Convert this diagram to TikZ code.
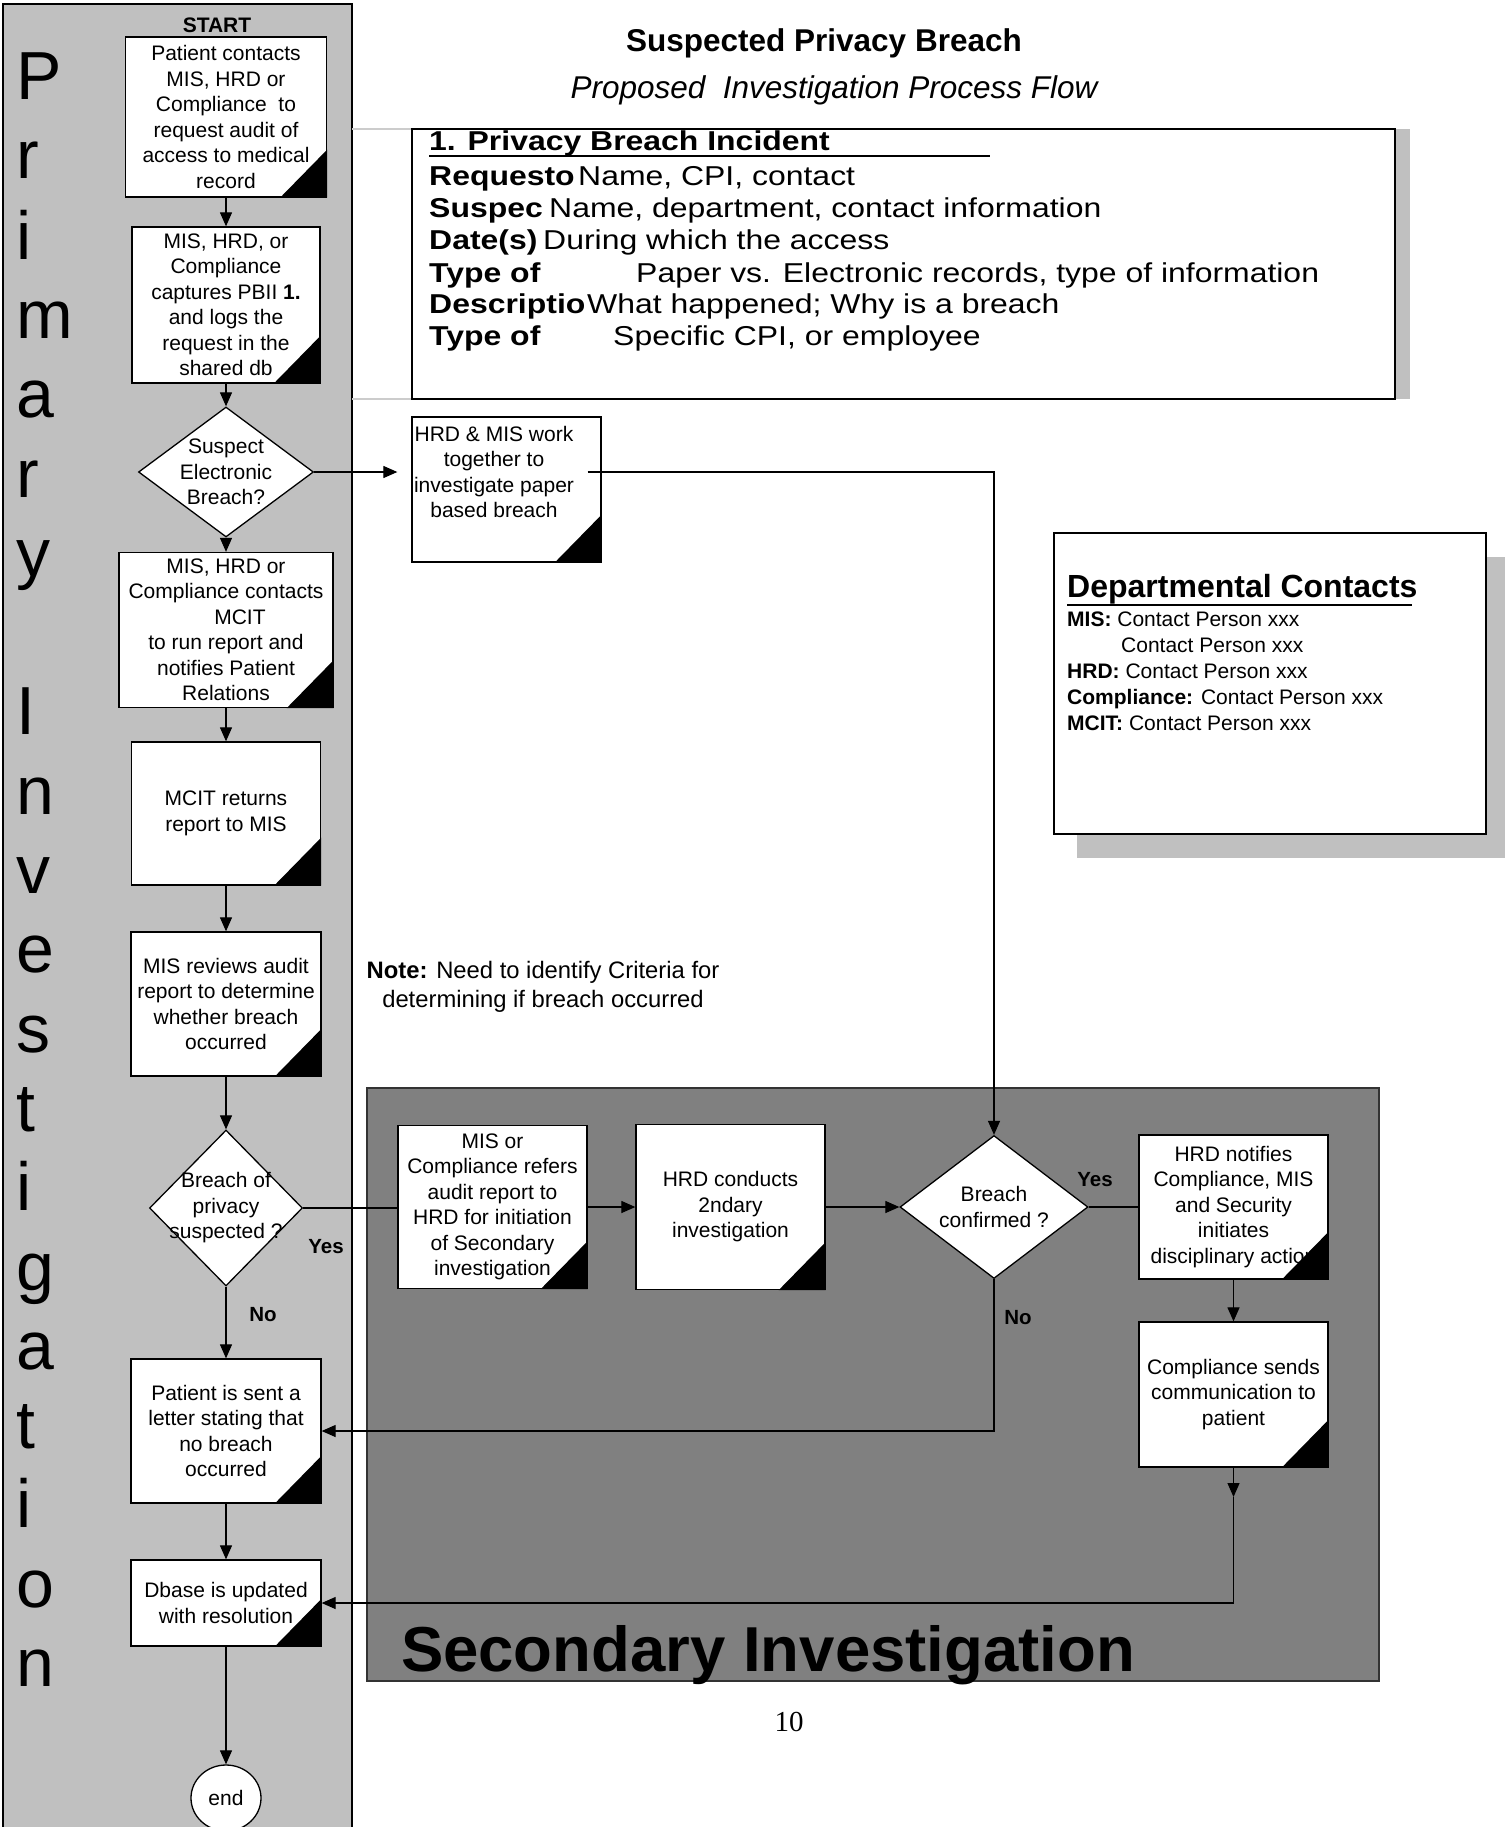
\documentclass[tikz,border=0pt]{standalone}
\usepackage{fontspec}
\setmainfont{Liberation Sans}
\newfontfamily\serifpage{Liberation Serif}
\newfontfamily\wideface[FakeStretch=1.17]{Liberation Sans}
\usetikzlibrary{arrows.meta,shapes.geometric}

\definecolor{lanegray}{HTML}{C0C0C0}
\definecolor{secgray}{HTML}{808080}
\newcommand{\boxfont}{\fontsize{21}{25.5}\selectfont}
\newcommand{\lanefont}{\fontsize{68}{68}\selectfont}
\newcommand{\incfont}{\wideface\fontsize{27.3}{32}\selectfont}
% black page corner in the lower right of a box
\newcommand{\pgcorner}[1]{\fill (#1.south east) -- ++(-47,0) -- ++(47,-48) -- cycle;}

\tikzset{
  box/.style={draw, fill=white, line width=1.3pt, align=center, inner sep=2pt, font=\boxfont},
  dia/.style={draw, fill=white, diamond, line width=1.3pt, inner sep=0pt},
  txt/.style={align=center, inner sep=0pt, font=\boxfont},
  arr/.style={-{Triangle[length=14pt,width=12pt]}, line width=1.2pt},
  conn/.style={line width=1.2pt},
  yesno/.style={font=\bfseries\fontsize{20.5}{24}\selectfont},
  lane/.style={anchor=base west, inner sep=0pt, font=\lanefont},
  inc/.style={anchor=base west, inner sep=0pt, font=\incfont},
  contactrow/.style={anchor=base west, inner sep=0pt, font=\fontsize{21}{26}\selectfont},
}

\begin{document}
\begin{tikzpicture}[x=1pt, y=-1pt]
\useasboundingbox (0,0) rectangle (1505,1827);

% swim lanes
\filldraw[fill=lanegray, line width=1.3pt] (3,4) rectangle (352,1830);
\filldraw[fill=secgray, draw=black!80, line width=1.3pt] (367,1088) rectangle (1379,1681);
\node[anchor=base, inner sep=0pt, font=\bfseries\fontsize{63.5}{70}\selectfont] (sectitle) at (768,1671) {Secondary Investigation};

% Primary Investigation, one letter a line
\node[lane] (l1) at (16,100) {P};
\node[lane] (l2) at (16,179) {r};
\node[lane] (l3) at (16,259) {i};
\node[lane] (l4) at (16,338) {m};
\node[lane] (l5) at (16,417) {a};
\node[lane] (l6) at (16,497) {r};
\node[lane] (l7) at (16,576) {y};
\node[lane] (l8) at (16,734) {I};
\node[lane] (l9) at (16,814) {n};
\node[lane] (l10) at (16,893) {v};
\node[lane] (l11) at (16,972) {e};
\node[lane] (l12) at (16,1052) {s};
\node[lane] (l13) at (16,1131) {t};
\node[lane] (l14) at (16,1210) {i};
\node[lane] (l15) at (16,1290) {g};
\node[lane] (l16) at (16,1369) {a};
\node[lane] (l17) at (16,1448) {t};
\node[lane] (l18) at (16,1527) {i};
\node[lane] (l19) at (16,1607) {o};
\node[lane] (l20) at (16,1686) {n};

% headings
\node[font=\bfseries\fontsize{31.5}{36}\selectfont] (title) at (824,43) {Suspected Privacy Breach};
\node[font=\itshape\fontsize{31.5}{36}\selectfont] (subtitle) at (834,90) {Proposed\ \ Investigation Process Flow};

% 1. incident box
\draw[gray!40, line width=1.2pt] (352,129) -- (412,129) (352,399) -- (412,399);
\fill[lanegray] (1395,129) rectangle (1410,399);
\filldraw[fill=white, line width=1.3pt] (412,129) rectangle (1395,399);
\node[inc, font=\incfont\bfseries] (inchead) at (429,151) {1. Privacy Breach Incident};
\draw[line width=1.5pt] (429,156) -- (990,156);
\node[inc] (row1) at (429,186) {\makebox[149pt][l]{\textbf{Requesto}}Name, CPI, contact};
\node[inc] (row2) at (429,218) {\makebox[120pt][l]{\textbf{Suspec}}Name, department, contact information};
\node[inc] (row3) at (429,250) {\makebox[114pt][l]{\textbf{Date(s)}}During which the access};
\node[inc] (row4) at (429,282) {\makebox[207pt][l]{\textbf{Type of}}Paper vs. Electronic records, type of information};
\node[inc] (row5) at (429,313.5) {\makebox[158pt][l]{\textbf{Descriptio}}What happened; Why is a breach};
\node[inc] (row6) at (429,345) {\makebox[184pt][l]{\textbf{Type of}}Specific CPI, or employee};

% departmental contacts
\fill[lanegray] (1077,557) rectangle (1505,858);
\filldraw[fill=white, line width=1.3pt] (1054,533) rectangle (1486,834);
\node[anchor=base west, inner sep=0pt, font=\bfseries\fontsize{32}{36}\selectfont] (depthead) at (1067,597) {Departmental Contacts};
\draw[line width=1.5pt] (1067,605) -- (1412,605);
\node[contactrow] (cmis) at (1067,626) {\textbf{MIS:} Contact Person xxx};
\node[contactrow] (cmis2) at (1121,652) {Contact Person xxx};
\node[contactrow] (chrd) at (1067,678) {\textbf{HRD:} Contact Person xxx};
\node[contactrow] (ccomp) at (1067,704) {\textbf{Compliance:} Contact Person xxx};
\node[contactrow] (cmcit) at (1067,730) {\textbf{MCIT:} Contact Person xxx};

% note
\node[align=center, inner sep=0pt, font=\fontsize{23.8}{29}\selectfont] (note) at (543,987) {\textbf{Note:} Need to identify Criteria for\\determining if breach occurred};

% primary flow
\node[font=\bfseries\fontsize{21}{24}\selectfont] (start) at (217,25) {START};
\node[box, minimum width=201pt, minimum height=160pt] (contact) at (226,117) {Patient contacts\\MIS, HRD or\\Compliance\ \ to\\request audit of\\access to medical\\record};
\node[box, minimum width=188pt, minimum height=156pt] (capture) at (226,305) {MIS, HRD, or\\Compliance\\captures PBII \textbf{1.}\\and logs the\\request in the\\shared db};
\node[dia, minimum width=175pt, minimum height=130pt] (suspect) at (226,472) {};
\node[txt] (suspecttxt) at (suspect) {Suspect\\Electronic\\Breach?};
\node[box, minimum width=214pt, minimum height=155pt] (mcitcall) at (226,630) {MIS, HRD or\\Compliance contacts\\\hspace*{28pt}MCIT\\to run report and\\notifies Patient\\Relations};
\node[box, minimum width=189pt, minimum height=143pt] (mcitret) at (226,813.5) {MCIT returns\\report to MIS};
\node[box, minimum width=190pt, minimum height=144pt] (review) at (226,1004) {MIS reviews audit\\report to determine\\whether breach\\occurred};
\node[dia, minimum width=153pt, minimum height=156pt] (breachq) at (226,1208) {};
\node[txt] (breachqtxt) at (breachq) {Breach of\\privacy\\suspected ?};
\node[box, minimum width=190pt, minimum height=144pt] (noletter) at (226,1431) {Patient is sent a\\letter stating that\\no breach\\occurred};
\node[box, minimum width=190pt, minimum height=86pt] (dbase) at (226,1603) {Dbase is updated\\with resolution};
\node[draw, ellipse, fill=white, line width=1.3pt, minimum width=70pt, minimum height=66pt, inner sep=0pt, font=\boxfont] (stop) at (226,1798) {end};

% paper breach
\node[box, minimum width=189pt, minimum height=145pt] (paper) at (506.5,489.5) {};
\node[txt] (papertxt) at (494,472) {HRD \& MIS work\\together to\\investigate paper\\based breach};
\path (papertxt.east -| paper.east) ++(-14,0) coordinate (paperout);

% secondary flow
\node[box, minimum width=189pt, minimum height=163pt] (refer) at (492.5,1207) {MIS or\\Compliance refers\\audit report to\\HRD for initiation\\of Secondary\\investigation};
\node[box, minimum width=189pt, minimum height=165pt] (conduct) at (730.5,1207) {HRD conducts\\2ndary\\investigation};
\node[dia, minimum width=188pt, minimum height=143pt] (confirmq) at (994,1207) {};
\node[txt] (confirmqtxt) at (confirmq) {Breach\\confirmed ?};
\node[box, minimum width=189pt, minimum height=144pt] (notify) at (1233.5,1207) {HRD notifies\\Compliance, MIS\\and Security\\initiates\\disciplinary action};
\node[box, minimum width=189pt, minimum height=145pt] (sendcomm) at (1233.5,1394.5) {Compliance sends\\communication to\\patient};
\coordinate (sendend) at (1233.5,1497);

% page corners
\pgcorner{contact}
\pgcorner{capture}
\pgcorner{mcitcall}
\pgcorner{mcitret}
\pgcorner{review}
\pgcorner{noletter}
\pgcorner{dbase}
\pgcorner{paper}
\pgcorner{refer}
\pgcorner{conduct}
\pgcorner{notify}
\pgcorner{sendcomm}

% connectors
\draw[arr] (contact) -- (capture);
\draw[arr] (capture) -- (suspect);
\draw[arr] (suspect) -- (mcitcall);
\draw[arr] (mcitcall) -- (mcitret);
\draw[arr] (mcitret) -- (review);
\draw[arr] (review) -- (breachq);
\draw[arr] (breachq) -- (noletter);
\draw[arr] (noletter) -- (dbase);
\draw[arr] (dbase) -- (stop);
\draw[arr, shorten >=14pt] (suspect.east) -- (suspect.east -| paper.west);
\draw[arr] (paperout) -| (confirmq.north);
\draw[conn] (breachq.east) -- (breachq.east -| refer.west);
\draw[arr] (refer) -- (conduct);
\draw[arr] (conduct) -- (confirmq);
\draw[conn] (confirmq) -- (notify);
\draw[arr] (notify) -- (sendcomm);
\draw[arr] (confirmq.south) |- (noletter.east);
\draw[arr] (sendcomm.south) -- (sendend);
\draw[arr] (sendend) |- (dbase.east);

% yes / no
\node[yesno] (yes1) at (326,1247) {Yes};
\node[yesno] (no1) at (263,1315) {No};
\node[yesno] (yes2) at (1095,1180) {Yes};
\node[yesno] (no2) at (1018,1318) {No};

% page number
\node[font=\serifpage\fontsize{29}{32}\selectfont] (pagenum) at (789,1722) {10};
\end{tikzpicture}
\end{document}
